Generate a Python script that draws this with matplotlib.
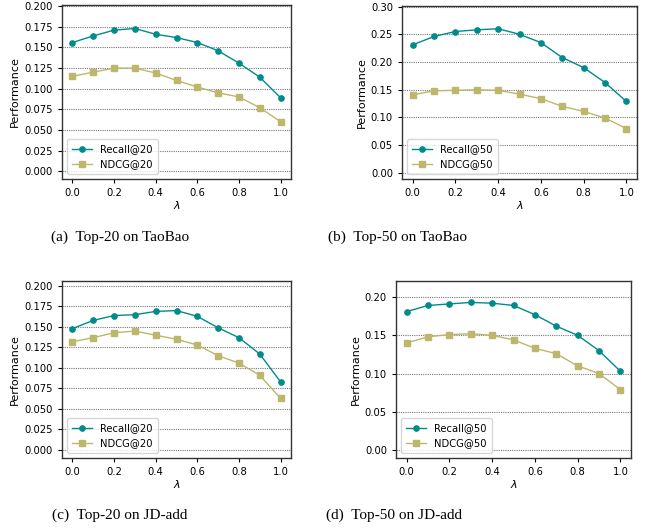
import matplotlib
matplotlib.use("Agg")
import matplotlib.pyplot as plt

lam = [0.0, 0.1, 0.2, 0.3, 0.4, 0.5, 0.6, 0.7, 0.8, 0.9, 1.0]

tb_recall20 = [0.156, 0.164, 0.171, 0.173, 0.166, 0.162, 0.156, 0.146, 0.131, 0.114, 0.089]
tb_ndcg20 = [0.115, 0.120, 0.125, 0.125, 0.119, 0.110, 0.102, 0.095, 0.090, 0.077, 0.060]
tb_recall50 = [0.231, 0.246, 0.255, 0.258, 0.260, 0.250, 0.235, 0.208, 0.190, 0.163, 0.129]
tb_ndcg50 = [0.141, 0.148, 0.149, 0.150, 0.149, 0.142, 0.134, 0.120, 0.111, 0.099, 0.080]
jd_recall20 = [0.148, 0.158, 0.164, 0.165, 0.169, 0.170, 0.163, 0.149, 0.137, 0.117, 0.083]
jd_ndcg20 = [0.132, 0.137, 0.143, 0.145, 0.140, 0.135, 0.128, 0.115, 0.106, 0.091, 0.063]
jd_recall50 = [0.181, 0.189, 0.191, 0.193, 0.192, 0.189, 0.177, 0.162, 0.150, 0.130, 0.103]
jd_ndcg50 = [0.140, 0.148, 0.151, 0.152, 0.150, 0.144, 0.133, 0.126, 0.110, 0.100, 0.079]

captions = ["(a)  Top-20 on TaoBao", "(b)  Top-50 on TaoBao",
            "(c)  Top-20 on JD-add", "(d)  Top-50 on JD-add"]

TEAL = "#008b8b"
KHAKI = "#bdb76b"

W, H = 650, 529
fig = plt.figure(figsize=(W / 100, H / 100), dpi=100)

def rect(l, r, t, b):
    return [l / W, 1 - b / H, (r - l) / W, (b - t) / H]

panels = [
    dict(rect=rect(62, 291, 5, 179), rec=tb_recall20, nd=tb_ndcg20, k=20,
         ylim=(-0.0095, 0.2015), ticks=[i * 0.025 for i in range(9)], fmt="{:.3f}"),
    dict(rect=rect(402, 637, 6, 179), rec=tb_recall50, nd=tb_ndcg50, k=50,
         ylim=(-0.011, 0.301), ticks=[i * 0.05 for i in range(7)], fmt="{:.2f}"),
    dict(rect=rect(62, 291, 281, 458), rec=jd_recall20, nd=jd_ndcg20, k=20,
         ylim=(-0.0098, 0.2061), ticks=[i * 0.025 for i in range(9)], fmt="{:.3f}"),
    dict(rect=rect(396, 631, 281, 458), rec=jd_recall50, nd=jd_ndcg50, k=50,
         ylim=(-0.0105, 0.221), ticks=[i * 0.05 for i in range(5)], fmt="{:.2f}"),
]

cap_pos = [(120, 237), (398, 237), (120, 515), (394, 515)]

for p, cap, (cx, cy) in zip(panels, captions, cap_pos):
    ax = fig.add_axes(p["rect"])
    ax.plot(lam, p["rec"], color=TEAL, marker="o", markersize=3.8, linewidth=1.0,
            label=f"Recall@{p['k']}")
    ax.plot(lam, p["nd"], color=KHAKI, marker="s", markersize=3.8, linewidth=1.0,
            label=f"NDCG@{p['k']}")
    ax.set_ylim(*p["ylim"])
    ax.set_xlim(-0.05, 1.05)
    ax.set_xticks([0.0, 0.2, 0.4, 0.6, 0.8, 1.0])
    ax.set_yticks(p["ticks"])
    ax.set_yticklabels([p["fmt"].format(t) for t in p["ticks"]])
    ax.yaxis.grid(True, linestyle=(0, (1, 1)), color="#777777", linewidth=0.8)
    ax.set_axisbelow(True)
    ax.tick_params(labelsize=7.2, length=3, width=0.8)
    for s in ax.spines.values():
        s.set_linewidth(1.0)
        s.set_color("#333333")
    ax.set_ylabel("Performance", fontsize=8, labelpad=3)
    ax.set_xlabel(r"$\lambda$", fontsize=8, labelpad=1)
    ax.legend(loc="lower left", fontsize=7.2, handlelength=2.0, borderpad=0.5,
              labelspacing=0.5)
    fig.text(cx / W, 1 - cy / H, cap, ha="center", va="center",
             fontsize=11, family="Liberation Serif")

fig.savefig("out.png", dpi=100)
